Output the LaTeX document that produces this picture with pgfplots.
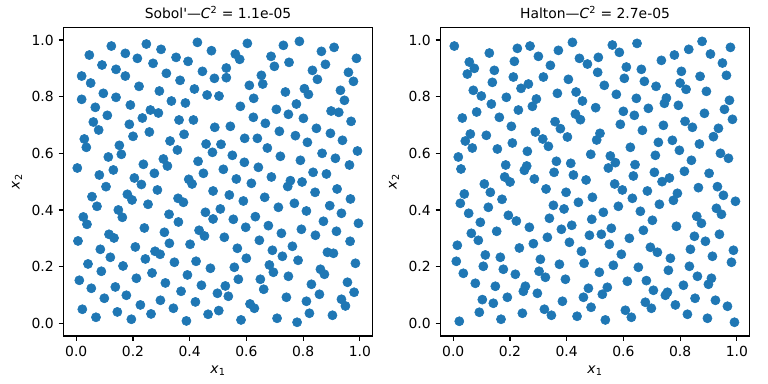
\documentclass[border=0pt]{standalone}
\usepackage{fontspec}
\setmainfont{DejaVu Sans}[Ligatures=TeXOff]
\usepackage{pgfplots}
\usepackage{pgfplotstable}
\pgfplotsset{compat=1.18}
\definecolor{tabblue}{HTML}{1F77B4}

\pgfplotstableread{
x y
0.1237 0.9788
0.2472 0.9859
0.4272 0.9918
0.0461 0.9471
0.1731 0.9529
0.2990 0.9671
0.4767 0.9624
0.2155 0.9353
0.3520 0.9388
0.3943 0.9247
0.0908 0.9118
0.2708 0.9177
0.1402 0.8965
0.4449 0.8894
0.0190 0.8729
0.1731 0.8729
0.3178 0.8824
0.3661 0.8577
0.4872 0.8647
0.0508 0.8482
0.2214 0.8365
0.4167 0.8271
0.0955 0.8118
0.2931 0.8200
0.4614 0.8059
0.0190 0.7906
0.1402 0.7977
0.3355 0.7847
0.3849 0.7777
0.0672 0.7624
0.1908 0.7706
0.2614 0.7529
0.2896 0.7424
0.1096 0.7341
0.2331 0.7247
0.3625 0.7177
0.4131 0.7177
0.0602 0.7106
0.1872 0.7024
0.0790 0.6824
0.2578 0.6753
0.4884 0.6918
0.3802 0.6671
0.2002 0.6600
0.0284 0.6506
0.0355 0.6212
0.3308 0.6435
0.1520 0.6282
0.4578 0.6329
0.3567 0.6118
0.1590 0.5965
0.4802 0.6035
0.1131 0.5871
0.3072 0.5800
0.3214 0.5553
0.4296 0.5718
0.2367 0.5612
0.0037 0.5482
0.1308 0.5412
0.0814 0.5235
0.2755 0.5294
0.4484 0.5294
0.2049 0.5129
0.3967 0.5082
0.4084 0.4918
0.6034 0.9882
0.7304 0.9812
0.7869 0.9953
0.5610 0.9506
0.5763 0.9318
0.6869 0.9424
0.8645 0.9600
0.9092 0.9741
0.9881 0.9353
0.5292 0.9012
0.6987 0.9071
0.7504 0.9212
0.8787 0.9141
0.5292 0.8671
0.6528 0.8753
0.8328 0.8929
0.9598 0.8859
0.9775 0.8541
0.8504 0.8612
0.6104 0.8400
0.6575 0.8447
0.7375 0.8165
0.8045 0.8282
0.8187 0.8082
0.9316 0.8224
0.5034 0.8024
0.6257 0.7941
0.9457 0.7871
0.5787 0.7659
0.7763 0.7741
0.7057 0.7553
0.8987 0.7494
0.9257 0.7447
0.7481 0.7377
0.6245 0.7271
0.8010 0.7235
0.9692 0.7129
0.6669 0.7059
0.5434 0.6953
0.8469 0.6882
0.7163 0.6777
0.8963 0.6706
0.7728 0.6624
0.5939 0.6529
0.6387 0.6529
0.9387 0.6459
0.5104 0.6318
0.8151 0.6388
0.6739 0.6188
0.9916 0.6082
0.5504 0.5929
0.8669 0.6000
0.7198 0.5894
0.9139 0.5824
0.7904 0.5753
0.5928 0.5682
0.9634 0.5588
0.5187 0.5435
0.6422 0.5506
0.8351 0.5329
0.8822 0.5271
0.5645 0.5094
0.6881 0.5165
0.7551 0.5035
0.7963 0.4988
0.6175 0.4941
0.7457 0.4830
0.1049 0.4823
0.2296 0.4900
0.0555 0.4470
0.1802 0.4553
0.1967 0.4353
0.2861 0.4706
0.4825 0.4670
0.0731 0.4129
0.2531 0.4200
0.3590 0.4411
0.3778 0.4270
0.1484 0.4000
0.1625 0.3741
0.0249 0.3753
0.0378 0.3494
0.3272 0.3847
0.4555 0.3917
0.4825 0.3682
0.3602 0.3576
0.2402 0.3364
0.1155 0.3141
0.1331 0.3011
0.3108 0.3211
0.4331 0.3282
0.4520 0.3082
0.0061 0.2906
0.3284 0.2823
0.4014 0.2788
0.0849 0.2611
0.2084 0.2694
0.2778 0.2541
0.2955 0.2435
0.1202 0.2329
0.2437 0.2270
0.3461 0.2153
0.4225 0.2188
0.0414 0.2094
0.1649 0.2023
0.4731 0.1941
0.0884 0.1835
0.2672 0.1776
0.3920 0.1706
0.0108 0.1517
0.2120 0.1588
0.3143 0.1423
0.4414 0.1341
0.0531 0.1235
0.1378 0.1282
0.3696 0.1129
0.4978 0.1058
0.1767 0.0988
0.0990 0.0882
0.2967 0.0811
0.4202 0.0753
0.0214 0.0494
0.2261 0.0647
0.3425 0.0529
0.1449 0.0400
0.2637 0.0329
0.4649 0.0317
0.5025 0.0447
0.0696 0.0211
0.1943 0.0141
0.3884 0.0082
0.9198 0.4741
0.5398 0.4529
0.5892 0.4317
0.6645 0.4447
0.8422 0.4623
0.9669 0.4388
0.5081 0.4035
0.7128 0.4094
0.7692 0.4235
0.8116 0.3964
0.8939 0.4153
0.9351 0.3882
0.5539 0.3670
0.6316 0.3764
0.5975 0.3388
0.6775 0.3447
0.7939 0.3317
0.8716 0.3600
0.9951 0.3529
0.5222 0.3035
0.7234 0.3176
0.8434 0.3106
0.9175 0.3247
0.6457 0.2929
0.9657 0.2894
0.5681 0.2647
0.6916 0.2576
0.7622 0.2717
0.8857 0.2506
0.9069 0.2470
0.5998 0.2294
0.7269 0.2364
0.7822 0.2223
0.9845 0.2117
0.5575 0.1976
0.6810 0.2058
0.6951 0.1800
0.8610 0.1906
0.8751 0.1729
0.7481 0.1658
0.5716 0.1553
0.6492 0.1553
0.8292 0.1376
0.9563 0.1447
0.5257 0.1317
0.6610 0.1200
0.9798 0.1094
0.5363 0.0953
0.7410 0.0917
0.8575 0.1023
0.9351 0.0847
0.8116 0.0776
0.6128 0.0682
0.6281 0.0529
0.9492 0.0611
0.8222 0.0353
0.9034 0.0282
0.5810 0.0117
0.7081 0.0176
0.7787 0.0035
}\sobol

\pgfplotstableread{
x y
0.0037 0.9788
0.1272 0.9541
0.2260 0.9706
0.2707 0.9788
0.3707 0.9635
0.4202 0.9918
0.0566 0.9224
0.0743 0.9000
0.0496 0.8800
0.2155 0.9247
0.3002 0.9424
0.3425 0.9106
0.4449 0.9353
0.4731 0.9153
0.1449 0.8929
0.2119 0.8694
0.1378 0.8506
0.3178 0.8694
0.4060 0.8612
0.0707 0.8224
0.0990 0.8024
0.2390 0.8294
0.2649 0.8447
0.3672 0.8118
0.4331 0.8165
0.1872 0.7977
0.2931 0.7918
0.2790 0.7659
0.1343 0.7741
0.4555 0.7847
0.0825 0.7459
0.2296 0.7529
0.4307 0.7388
0.4484 0.7188
0.0319 0.7247
0.1625 0.7271
0.3590 0.7118
0.3778 0.6871
0.2049 0.6953
0.2896 0.6753
0.3155 0.6506
0.3355 0.6247
0.4025 0.6577
0.0602 0.6682
0.0425 0.6435
0.1166 0.6635
0.2084 0.6365
0.0672 0.6188
0.1555 0.6153
0.2613 0.6071
0.4849 0.5965
0.0178 0.5871
0.3637 0.5718
0.4143 0.5647
0.1849 0.5588
0.2590 0.5553
0.2507 0.5400
0.0272 0.5447
0.3555 0.5329
0.4237 0.5235
0.1813 0.5165
0.2860 0.5094
0.4684 0.5059
0.2002 0.4988
0.1096 0.4918
0.5610 0.9824
0.5857 0.9565
0.6480 0.9882
0.5116 0.9388
0.5092 0.8859
0.6104 0.9047
0.6633 0.8965
0.7339 0.9282
0.7798 0.9471
0.8304 0.9671
0.8774 0.9953
0.9069 0.9506
0.9774 0.9741
0.9492 0.9188
0.9633 0.8753
0.8704 0.8718
0.8045 0.8894
0.6033 0.8647
0.6739 0.8541
0.7151 0.8365
0.7998 0.8482
0.8210 0.8259
0.8927 0.8188
0.5327 0.8400
0.5751 0.8082
0.6457 0.7941
0.7516 0.7953
0.7445 0.7765
0.7939 0.7694
0.9739 0.7871
0.9563 0.7553
0.5022 0.7612
0.5998 0.7482
0.6386 0.7341
0.6880 0.7588
0.8857 0.7412
0.9845 0.7200
0.5892 0.7024
0.7410 0.6988
0.8174 0.7129
0.8433 0.6918
0.6669 0.6812
0.9351 0.6882
0.9174 0.6588
0.5174 0.6706
0.5057 0.6471
0.7233 0.6388
0.7727 0.6459
0.8680 0.6329
0.6245 0.6212
0.7974 0.6106
0.7127 0.5929
0.9422 0.6000
0.9704 0.5824
0.5539 0.5906
0.5716 0.5671
0.5469 0.5482
0.6410 0.5600
0.8398 0.5753
0.7092 0.5329
0.8151 0.5365
0.9022 0.5294
0.6351 0.5200
0.7622 0.5129
0.7363 0.5000
0.5692 0.4918
0.0390 0.4564
0.1307 0.4623
0.3272 0.4741
0.3978 0.4623
0.0249 0.4235
0.1719 0.4376
0.1237 0.4094
0.3531 0.4164
0.3907 0.4035
0.4413 0.4270
0.4907 0.4447
0.0543 0.3882
0.1943 0.3811
0.2225 0.3611
0.3390 0.3706
0.4884 0.3670
0.0955 0.3564
0.2684 0.3388
0.3813 0.3317
0.4178 0.3458
0.0637 0.3176
0.1531 0.3247
0.0884 0.2929
0.3319 0.3035
0.4802 0.3106
0.0143 0.2753
0.2825 0.2811
0.4096 0.2858
0.2331 0.2658
0.4519 0.2541
0.1131 0.2411
0.1660 0.2329
0.3072 0.2258
0.0107 0.2188
0.1060 0.2011
0.1766 0.1906
0.3743 0.2082
0.4613 0.2117
0.0355 0.1764
0.3025 0.1835
0.3249 0.1623
0.2190 0.1729
0.3955 0.1553
0.0778 0.1411
0.1484 0.1306
0.2543 0.1306
0.2472 0.1129
0.4766 0.1235
0.2966 0.1058
0.1907 0.0917
0.4590 0.0917
0.1025 0.0835
0.1413 0.0706
0.3849 0.0776
0.4860 0.0564
0.0919 0.0388
0.2437 0.0353
0.3213 0.0494
0.3460 0.0282
0.4366 0.0247
0.1684 0.0141
0.0213 0.0070
0.8645 0.4788
0.9316 0.4823
0.5963 0.4706
0.6845 0.4670
0.6316 0.4411
0.7904 0.4588
0.7763 0.4341
0.9527 0.4517
0.9951 0.4306
0.5822 0.4129
0.7269 0.4200
0.6598 0.3953
0.9280 0.4058
0.9457 0.3847
0.5292 0.3917
0.8586 0.3776
0.8751 0.3529
0.7022 0.3635
0.5574 0.3353
0.7869 0.3423
0.6704 0.3282
0.5222 0.3141
0.9386 0.3141
0.6210 0.3000
0.8504 0.3070
0.8892 0.2894
0.5504 0.2788
0.6951 0.2682
0.7198 0.2506
0.8363 0.2611
0.9880 0.2576
0.5927 0.2435
0.9139 0.2364
0.7657 0.2294
0.9810 0.2153
0.5645 0.2047
0.6527 0.1976
0.8327 0.2011
0.7586 0.1870
0.5151 0.1800
0.8610 0.1658
0.9104 0.1588
0.8998 0.1376
0.6139 0.1482
0.6810 0.1506
0.8116 0.1341
0.5433 0.1270
0.5257 0.1023
0.7057 0.1164
0.7551 0.1094
0.7480 0.0988
0.8527 0.0882
0.9245 0.0811
0.6774 0.0741
0.6986 0.0529
0.7833 0.0647
0.9669 0.0600
0.6069 0.0458
0.6280 0.0211
0.8257 0.0317
0.5363 0.0117
0.8963 0.0176
0.9916 0.0035
}\halton

\pgfplotsset{
  qmc/.style={
    scale only axis,
    width=3.091in, height=3.087in,
    xmin=-0.045, xmax=1.045, ymin=-0.045, ymax=1.045,
    xtick={0,0.2,0.4,0.6,0.8,1},
    ytick={0,0.2,0.4,0.6,0.8,1},
    tick pos=left,
    tick align=outside,
    major tick length=3.5bp,
    tick style={black, line width=0.8bp},
    axis line style={line width=0.8bp},
    /pgf/number format/assume math mode=true,
    /pgf/number format/fixed,
    /pgf/number format/fixed zerofill,
    /pgf/number format/precision=1,
    tick label style={font=\fontsize{10bp}{12bp}\selectfont},
    label style={font=\fontsize{10bp}{12bp}\selectfont},
    title style={font=\fontsize{10bp}{12bp}\selectfont, yshift=-3bp},
    xlabel={\textit{x}\textsubscript{1}},
    ylabel={\textit{x}\textsubscript{2}},
  },
  qmcpts/.style={only marks, mark=*, mark size=3.3bp, color=tabblue,
    line width=0.4bp},
}

\begin{document}
\begin{tikzpicture}
\useasboundingbox (-0.635in,-0.48in) rectangle (7.045in,3.36in);
\begin{axis}[qmc, at={(0,0)}, anchor=south west,
  title={Sobol'—\textit{C}\textsuperscript{2} = 1.1e-05}]
\addplot[qmcpts] table[x=x, y=y] {\sobol};
\end{axis}
\begin{axis}[qmc, at={(3.77in,0)}, anchor=south west,
  title={Halton—\textit{C}\textsuperscript{2} = 2.7e-05}]
\addplot[qmcpts] table[x=x, y=y] {\halton};
\end{axis}
\end{tikzpicture}
\end{document}
